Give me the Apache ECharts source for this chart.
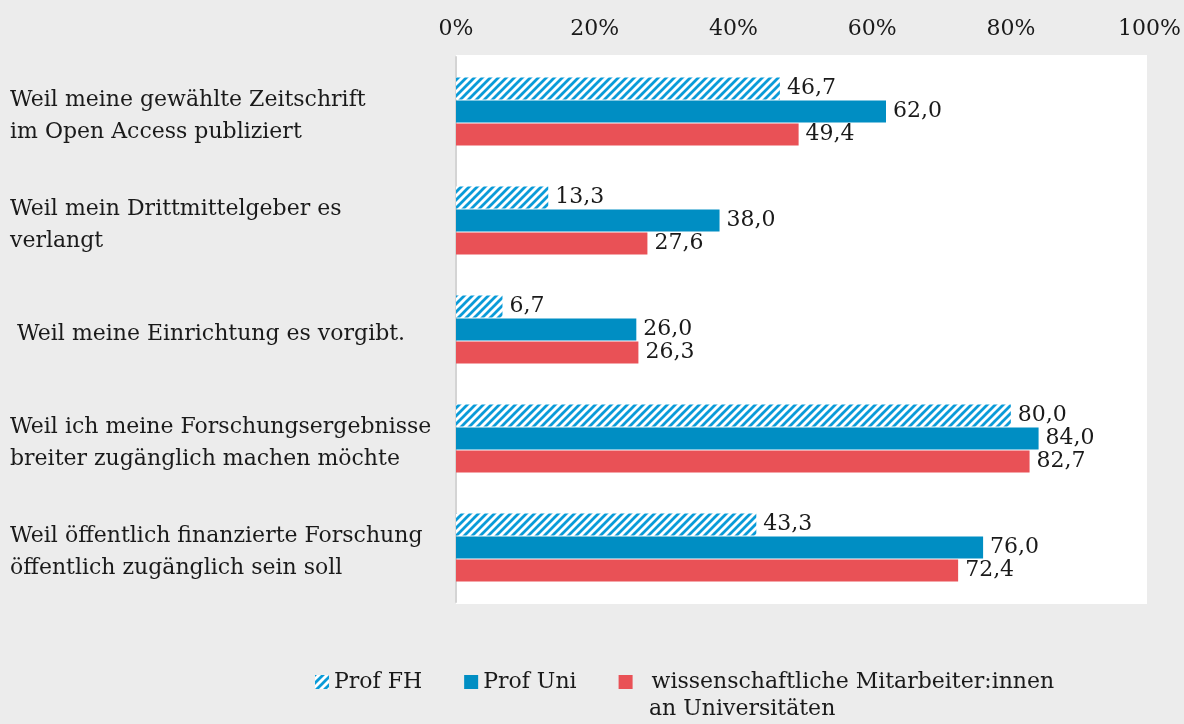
<!DOCTYPE html>
<html>
<head>
<meta charset="utf-8">
<script src="https://cdn.jsdelivr.net/npm/echarts@6/dist/echarts.min.js"></script>
<style>
  html, body { margin: 0; padding: 0; background: #ececec; }
  #chart { width: 1184px; height: 724px; }
</style>
</head>
<body>
<div id="chart"></div>
<script>
var categories = [
    'Weil meine gewählte Zeitschrift\nim Open Access publiziert',
    'Weil mein Drittmittelgeber es\nverlangt',
    ' Weil meine Einrichtung es vorgibt.',
    'Weil ich meine Forschungsergebnisse\nbreiter zugänglich machen möchte',
    'Weil öffentlich finanzierte Forschung\nöffentlich zugänglich sein soll'
];
var profFH = [46.7, 13.3, 6.7, 80.0, 43.3];
var profUni = [62.0, 38.0, 26.0, 84.0, 76.0];
var wimi = [49.4, 27.6, 26.3, 82.7, 72.4];
var seriesNames = ['Prof FH', 'Prof Uni', 'wissenschaftliche Mitarbeiter:innen'];

var font = 'DejaVu Serif';
var textColor = '#1a1a1a';

// hatched fill for Prof FH
var hatch = document.createElement('canvas');
hatch.width = 8;
hatch.height = 8;
var ctx = hatch.getContext('2d');
ctx.fillStyle = '#ffffff';
ctx.fillRect(0, 0, 8, 8);
ctx.strokeStyle = '#0a9bd8';
ctx.lineWidth = 2.8;
ctx.beginPath();
ctx.moveTo(-2, 10); ctx.lineTo(10, -2);
ctx.moveTo(-6, 6); ctx.lineTo(6, -6);
ctx.moveTo(2, 14); ctx.lineTo(14, 2);
ctx.stroke();

function fmt(p) {
    return p.value.toFixed(1).replace('.', ',');
}

var labelOpt = {
    show: true,
    position: 'right',
    distance: 7,
    formatter: fmt,
    color: textColor,
    fontFamily: font,
    fontSize: 22
};

var myChart = echarts.init(document.getElementById('chart'));
var option = {
    backgroundColor: '#ececec',
    animation: false,
    graphic: [
        {
            type: 'rect',
            z: 0,
            shape: {x: 456, y: 55, width: 691, height: 549},
            style: {fill: '#ffffff'}
        },
        {
            type: 'text',
            left: 649,
            top: 698,
            style: {
                text: 'an Universitäten',
                fill: textColor,
                font: '22px "DejaVu Serif"'
            }
        }
    ],
    grid: {
        left: 456,
        right: 29,
        top: 57,
        bottom: 122
    },
    xAxis: {
        type: 'value',
        position: 'top',
        min: 0,
        max: 100,
        interval: 20,
        axisLine: {show: false},
        axisTick: {show: false},
        splitLine: {show: false},
        axisLabel: {
            formatter: '{value}%',
            margin: 17,
            color: textColor,
            fontFamily: font,
            fontSize: 22
        }
    },
    yAxis: {
        type: 'category',
        inverse: true,
        data: categories,
        axisLine: {show: true, lineStyle: {color: '#d4d4d4', width: 2}},
        axisTick: {show: false},
        axisLabel: {
            align: 'left',
            margin: 446,
            // small spacer line pushes the labels a bit below the group centre
            formatter: function (v) {
                return '{s| }\n' + v;
            },
            rich: {
                s: {fontSize: 1, lineHeight: 9}
            },
            color: textColor,
            fontFamily: font,
            fontSize: 22,
            lineHeight: 32
        }
    },
    legend: {
        left: 310,
        top: 666,
        itemWidth: 14,
        itemHeight: 14,
        itemGap: 42,
        icon: 'rect',
        data: seriesNames,
        formatter: function (name) {
            return name === seriesNames[2] ? '  ' + name : name;
        },
        textStyle: {
            color: textColor,
            fontFamily: font,
            fontSize: 22
        }
    },
    series: [
        {
            name: seriesNames[0],
            type: 'bar',
            data: profFH,
            barWidth: 22,
            barGap: '5%',
            itemStyle: {color: {image: hatch, repeat: 'repeat'}},
            label: labelOpt
        },
        {
            name: seriesNames[1],
            type: 'bar',
            data: profUni,
            barWidth: 22,
            barGap: '5%',
            itemStyle: {color: '#008ec3'},
            label: labelOpt
        },
        {
            name: seriesNames[2],
            type: 'bar',
            data: wimi,
            barWidth: 22,
            barGap: '5%',
            itemStyle: {color: '#e95156'},
            label: labelOpt
        }
    ]
};
myChart.setOption(option);
</script>
</body>
</html>
